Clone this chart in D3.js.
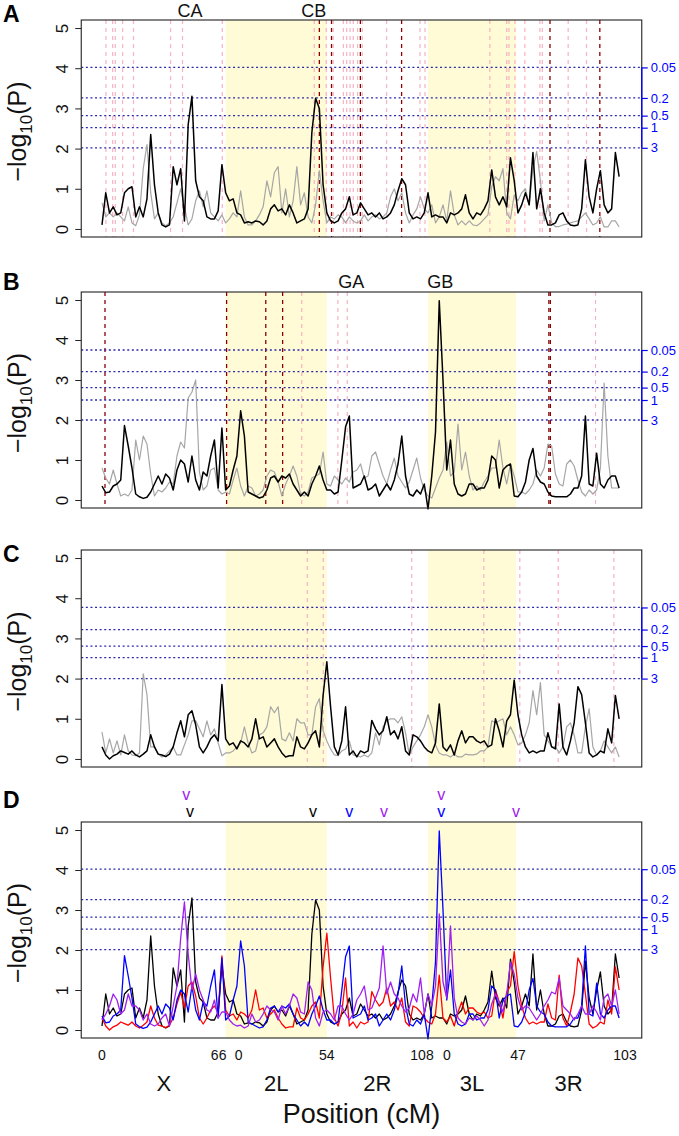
<!DOCTYPE html>
<html><head><meta charset="utf-8">
<script src="https://cdn.jsdelivr.net/npm/d3@7"></script>
<style>
body{margin:0;background:#fff}
svg{display:block}
text{font-family:"Liberation Sans",Arial,Helvetica,sans-serif}
</style>
</head><body>
<svg id="chart" width="679" height="1136"></svg>
<script>
// ---------------- DATA ----------------
// marker grid (cumulative cM along X | chr2 | chr3)
const positionsCM = d3.range(0, 277, 2);
const armNames  = ["X", "2L", "2R", "3L", "3R"];
const armStarts = [0, 66, 120, 174, 221];
const armEnds   = [66, 120, 174, 221, 277];
const shadedArms = ["2L", "3L"];
const tickLabels = ["0", "66", "0", "54", "108", "0", "47", "103"];
const tickPosCM  = [0, 66, 66, 120, 174, 174, 221, 277];
const yTicks = [0, 1, 2, 3, 4, 5];
const thresholdLabels = ["0.05", "0.2", "0.5", "1", "3"];
const thresholdsA = [4.02, 3.26, 2.82, 2.52, 2.02];
const thresholdsB = [3.75, 3.21, 2.81, 2.50, 2.00];
const thresholdsC = [3.77, 3.22, 2.81, 2.52, 2.00];
const thresholdsD = [4.02, 3.26, 2.82, 2.52, 2.01];

const blackA = [0.1,0.9,0.4,0.55,0.35,0.4,0.9,1.0,1.05,0.3,
 0.55,0.3,0.75,2.35,1.1,0.4,0.1,0.05,0.1,1.55,
 1.1,1.5,0.2,2.6,3.3,1.2,0.8,0.7,0.3,0.25,
 0.25,0.45,1.6,0.9,0.7,0.75,0.4,0.35,0.15,0.18,
 0.15,0.2,0.18,0.1,0.2,0.5,0.6,0.45,0.5,0.35,
 0.6,0.4,0.15,0.2,0.25,0.5,2.4,3.25,3.0,1.1,
 0.4,0.2,0.15,0.2,0.4,0.5,0.8,0.35,0.4,0.65,
 0.5,0.35,0.4,0.3,0.4,0.25,0.3,0.4,0.6,0.95,
 1.25,1.1,0.4,0.25,0.3,0.25,0.4,0.9,0.3,0.35,
 0.3,0.3,0.15,0.4,0.35,0.4,0.5,0.85,0.4,0.25,
 0.4,0.35,0.5,0.7,1.47,0.8,0.6,0.8,0.55,1.77,
 1.2,0.4,0.6,0.9,0.6,1.9,0.5,1.0,0.4,0.1,
 0.1,0.15,0.35,0.4,0.2,0.1,0.08,0.1,0.5,1.72,
 0.8,0.4,1.0,1.45,0.6,0.4,0.5,1.9,1.3];
const greyA = [0.65,0.3,0.4,0.3,0.4,0.3,0.2,0.55,0.15,0.08,
 0.35,1.5,2.1,0.9,0.25,0.4,0.15,0.08,0.15,0.3,
 0.65,1.0,0.55,0.1,0.25,0.7,0.95,0.55,0.95,0.4,
 0.3,0.2,0.35,0.15,0.25,0.4,0.3,0.95,0.3,0.1,
 0.1,0.2,0.35,0.55,1.2,0.8,1.4,1.55,0.4,1.0,
 0.3,0.7,1.55,0.6,0.9,0.3,0.15,0.6,1.45,0.7,
 0.15,0.3,0.25,0.35,0.3,0.15,0.3,0.2,0.15,0.2,
 0.35,0.2,0.3,0.35,0.25,0.3,0.4,0.8,1.0,0.7,
 0.9,0.4,0.15,0.35,0.5,0.8,0.5,0.4,0.6,0.15,
 0.3,0.6,0.2,0.95,0.35,0.1,0.2,0.1,0.2,0.1,
 0.08,0.15,0.25,0.35,1.05,1.3,1.2,1.5,0.4,0.25,
 0.85,0.7,0.9,1.0,0.6,1.5,1.93,1.2,0.2,0.6,
 0.15,0.06,0.06,0.1,0.12,0.15,0.18,0.2,0.3,0.4,
 0.25,0.1,0.15,0.3,0.05,0.05,0.2,0.2,0.05];
const blackB = [0.35,0.18,0.2,0.35,0.4,0.5,1.86,1.35,0.8,0.15,
 0.08,0.04,0.07,0.2,0.4,0.6,0.4,0.65,0.55,0.25,
 0.75,1.0,0.9,0.45,1.1,0.5,0.25,0.7,0.6,1.1,
 1.5,0.3,1.8,0.25,0.35,0.75,1.1,2.23,1.6,0.2,
 0.15,0.1,0.05,0.08,0.25,0.55,0.6,0.45,0.6,0.55,
 0.65,0.4,0.25,0.1,0.2,0.1,0.4,0.6,0.85,0.5,
 0.25,0.25,0.15,0.2,1.0,1.83,2.1,0.3,0.35,0.4,
 0.6,0.25,0.3,0.4,0.1,0.25,0.4,0.25,0.5,0.9,
 1.6,0.6,0.15,0.1,0.25,0.15,0.4,-0.22,0.6,1.7,
 4.98,3.0,0.75,1.5,0.4,0.15,0.1,0.15,0.4,0.4,
 0.25,0.3,0.3,0.5,1.1,1.0,0.3,0.75,0.85,0.9,
 0.1,0.08,0.2,0.45,1.0,1.29,0.6,0.45,0.4,0.2,
 0.1,0.08,0.08,0.08,0.08,0.15,0.3,0.3,0.6,2.1,
 0.4,0.35,1.17,0.4,0.3,0.5,0.6,0.6,0.3];
const greyB = [0.8,0.55,0.4,0.75,0.4,0.1,0.15,0.1,0.25,1.5,
 1.0,1.6,1.4,0.65,0.1,0.25,0.2,0.3,0.45,0.4,
 1.1,1.45,1.3,2.55,2.7,3.0,0.7,0.25,0.35,0.75,
 0.8,0.25,0.15,0.2,0.15,0.5,0.8,0.35,0.1,0.35,
 0.3,0.1,0.15,0.25,0.6,0.75,0.7,0.45,0.1,0.4,
 0.6,0.85,0.6,0.15,0.1,0.2,0.55,0.6,0.65,1.2,
 0.4,0.35,0.6,0.5,0.4,0.55,0.45,0.7,0.75,0.9,
 0.55,0.6,1.1,1.2,0.9,0.6,0.4,0.75,1.05,0.6,
 0.45,0.3,0.45,0.75,1.05,0.55,0.25,0.1,0.05,0.3,
 0.55,0.75,1.45,0.6,0.7,1.9,0.75,1.2,0.6,0.25,
 0.35,0.25,0.45,0.6,0.8,0.8,1.5,0.8,0.4,0.9,
 0.6,0.2,0.2,0.15,0.25,0.4,0.75,0.6,0.8,1.4,
 1.35,0.65,0.4,0.35,0.9,1.0,0.85,0.5,0.2,0.1,
 0.25,0.15,0.25,0.8,2.92,1.1,0.3,0.3,0.3];
const blackC = [0.3,0.1,0.0,0.08,0.12,0.2,0.16,0.12,0.2,0.1,
 0.05,0.12,0.2,0.6,0.3,0.12,0.1,0.06,0.12,0.3,
 0.65,0.95,0.55,1.1,1.2,0.85,0.3,0.15,0.3,0.5,
 0.6,0.45,1.85,0.5,0.35,0.4,0.25,0.45,0.4,0.3,
 0.5,1.0,0.5,0.55,0.3,0.4,0.5,0.3,0.15,0.05,
 0.08,0.08,0.55,0.3,0.25,0.4,0.6,0.7,0.3,1.58,
 2.42,1.3,0.3,0.1,0.45,1.3,0.1,0.2,0.05,0.2,
 0.15,0.2,0.96,0.75,0.6,0.7,1.05,0.6,0.7,0.5,
 0.8,0.2,0.1,0.6,0.55,0.45,0.3,0.2,0.15,0.4,
 1.37,0.3,0.2,0.35,0.1,0.45,0.7,0.4,0.55,0.55,
 0.45,0.4,0.45,0.3,0.35,1.0,0.7,0.3,0.95,1.1,
 1.96,1.1,0.6,0.3,0.15,0.2,0.15,0.2,0.2,0.65,
 0.3,0.25,1.37,0.3,0.1,0.45,0.9,1.8,1.6,0.9,
 0.15,0.05,0.1,0.2,0.15,0.75,0.4,1.58,1.0];
const greyC = [0.67,0.15,0.5,0.15,0.45,0.1,0.6,0.2,0.1,0.08,
 0.15,2.12,1.6,0.3,0.3,0.12,0.05,0.1,0.2,0.3,
 0.1,0.1,0.35,0.6,0.95,0.95,0.75,0.55,0.95,0.6,
 0.75,0.4,0.08,0.15,0.15,0.2,0.3,0.4,0.8,0.4,
 0.15,0.2,0.6,0.65,0.8,1.3,1.15,1.3,0.5,0.45,
 0.65,0.45,1.0,0.9,0.9,0.6,0.6,1.3,1.5,0.7,
 0.45,0.25,0.1,0.08,0.2,0.25,0.45,0.1,0.08,0.05,
 0.1,0.05,0.15,0.65,0.35,0.8,0.95,1.0,1.0,0.9,
 1.05,0.65,0.1,0.3,0.45,0.6,0.8,1.1,0.8,0.35,
 0.15,0.1,0.1,0.05,0.12,0.05,0.05,0.12,0.1,0.1,
 0.12,0.2,0.2,0.3,0.95,0.9,0.95,1.0,0.6,0.8,
 0.6,0.35,0.4,0.6,0.9,1.7,1.1,1.9,0.6,0.45,
 0.3,0.3,0.15,0.3,0.8,0.9,0.6,0.15,0.15,0.8,
 1.25,0.3,0.1,0.2,0.45,0.3,0.15,0.3,0.05];
const purpleD = [0.25,0.4,0.6,0.9,0.75,0.4,0.5,0.9,0.6,0.6,
 0.5,0.25,0.4,0.15,0.1,0.15,0.3,0.4,0.1,0.6,
 1.1,2.3,3.2,1.9,1.0,1.4,1.0,0.75,0.5,0.45,
 0.75,0.3,0.45,0.45,0.25,0.15,0.1,0.12,0.05,0.1,
 0.4,0.2,0.25,0.4,0.6,0.5,0.45,0.25,0.6,0.4,
 0.6,0.9,0.8,0.45,0.4,1.2,1.0,0.3,0.1,0.45,
 0.5,0.4,0.25,0.6,0.6,0.4,0.25,0.4,0.75,0.9,
 1.1,0.5,0.55,0.8,1.05,2.1,0.9,1.2,0.9,0.8,
 0.6,0.45,0.55,0.9,0.7,1.3,0.4,0.9,0.6,1.1,
 2.9,1.2,0.8,2.6,0.8,0.3,0.2,0.15,0.3,0.25,
 0.35,0.25,0.1,0.25,0.65,0.9,0.7,0.45,0.9,1.7,
 1.4,0.8,0.5,0.6,0.55,0.4,0.25,0.4,0.6,0.75,
 0.95,0.9,1.3,0.6,0.5,0.4,0.25,0.4,0.6,0.4,
 0.4,0.6,0.45,0.25,0.8,0.9,0.6,1.0,0.4];

// vertical marker lines (cumulative cM)
const pinkA = [2.1,5.7,7.1,11.0,16.8,36.6,43.0,64.2,113.3,119.7,123.4,128.8,130.6,132.4,134.1,136.4,138.9,151.9,169.7,172.4,207.0,216.0,217.2,220.4,225.7,233.7,235.0,248.8,258.6];
const darkA = [116.0,122.5,137.9,159.9,239.1,265.7];
const pinkB = [106.6,125.9,130.9,263.4];
const darkB = [1.6,66.5,87.4,96.4,238.5,239.3];
const pinkC = [109.6,118.1,165.3,203.8,223.0,243.5,273.2];
const darkC = [];

const peakLabelsA = [{text:"CA", pos:47}, {text:"CB", pos:113}];
const peakLabelsB = [{text:"GA", pos:133}, {text:"GB", pos:180.5}];
const markersUpper = [{s:"purple", pos:45}, {s:"purple", pos:181}];
const markersLower = [{s:"black", pos:47}, {s:"black", pos:112.6}, {s:"blue", pos:132}, {s:"purple", pos:150.5}, {s:"blue", pos:181}, {s:"purple", pos:221}];

// ---------------- DRAWING ----------------
const col = {black:"#000000", grey:"#a6a6a6", red:"#ff0000", blue:"#0000ff", purple:"#a020f0",
  pink:"#f6b3c0", dark:"#8b0000", thr:"#2a2aa6", shade:"#fffbd6", axisBlue:"#0000ff"};

const svg = d3.select("#chart");
const x = d3.scaleLinear().domain([0, 277]).range([102, 621]);
const pad = 277 * 0.04;
const boxL = x(-pad), boxR = x(277 + pad);

const panels = [
  {letter:"A", letterY:22, top:20, bottom:237, thr:thresholdsA,
   series:[{v:greyA,c:col.grey,w:1.2},{v:blackA,c:col.black,w:1.5}], pink:pinkA, dark:darkA, labels:peakLabelsA, labelY:17},
  {letter:"B", letterY:290, top:292, bottom:508, thr:thresholdsB,
   series:[{v:greyB,c:col.grey,w:1.2},{v:blackB,c:col.black,w:1.5}], pink:pinkB, dark:darkB, labels:peakLabelsB, labelY:288},
  {letter:"C", letterY:562, top:550, bottom:767, thr:thresholdsC,
   series:[{v:greyC,c:col.grey,w:1.2},{v:blackC,c:col.black,w:1.5}], pink:pinkC, dark:darkC, labels:[], labelY:0},
  {letter:"D", letterY:808, top:822, bottom:1038, thr:thresholdsD,
   series:[{v:blackA,c:col.black,w:1.3},{v:blackC,c:col.red,w:1.3},{v:blackB,c:col.blue,w:1.3},{v:purpleD,c:col.purple,w:1.3}],
   pink:[], dark:[], labels:[], labelY:0}
];

panels.forEach(p => {
  const y = d3.scaleLinear().domain([-0.2, 5.2]).range([p.bottom, p.top]);
  const g = svg.append("g");

  shadedArms.forEach(a => {
    const i = armNames.indexOf(a);
    g.append("rect").attr("x", x(armStarts[i])).attr("width", x(armEnds[i]) - x(armStarts[i]))
      .attr("y", p.top).attr("height", p.bottom - p.top).attr("fill", col.shade);
  });

  p.pink.forEach(v => g.append("line").attr("x1", x(v)).attr("x2", x(v)).attr("y1", p.top).attr("y2", p.bottom)
    .attr("stroke", col.pink).attr("stroke-width", 1.2).attr("stroke-dasharray", "4,4"));
  p.dark.forEach(v => g.append("line").attr("x1", x(v)).attr("x2", x(v)).attr("y1", p.top).attr("y2", p.bottom)
    .attr("stroke", col.dark).attr("stroke-width", 1.3).attr("stroke-dasharray", "4,4"));

  p.thr.forEach(t => g.append("line").attr("x1", boxL).attr("x2", boxR).attr("y1", y(t)).attr("y2", y(t))
    .attr("stroke", col.thr).attr("stroke-width", 1.3).attr("stroke-dasharray", "2,2.6"));

  const line = d3.line().x((d, i) => x(positionsCM[i])).y(d => y(d));
  p.series.forEach(s => g.append("path").datum(s.v).attr("d", line).attr("fill", "none")
    .attr("stroke", s.c).attr("stroke-width", s.w).attr("stroke-linejoin", "round"));

  g.append("rect").attr("x", boxL).attr("y", p.top).attr("width", boxR - boxL).attr("height", p.bottom - p.top)
    .attr("fill", "none").attr("stroke", "#222").attr("stroke-width", 1.1);

  const ax = g.append("g").attr("transform", `translate(${boxL},0)`)
    .call(d3.axisLeft(y).tickValues(yTicks).tickSize(6).tickFormat(d3.format("d")));
  ax.select(".domain").remove();
  ax.selectAll("line").attr("stroke", "#222");
  ax.selectAll("text").attr("x", null).attr("dy", null).attr("text-anchor", "middle")
    .attr("transform", "translate(-13,0) rotate(-90)").attr("font-size", 17).attr("fill", "#111")
    .attr("font-family", '"Liberation Sans",Arial,sans-serif');

  const rax = g.append("g").attr("transform", `translate(${boxR},0)`).attr("color", col.axisBlue)
    .call(d3.axisRight(y).tickValues(p.thr).tickSize(6).tickPadding(3).tickFormat((d, i) => thresholdLabels[i]));
  rax.select(".domain").remove();
  rax.append("line").attr("x1", 0).attr("x2", 0).attr("y1", y(d3.max(p.thr))).attr("y2", y(d3.min(p.thr)))
    .attr("stroke", col.axisBlue).attr("stroke-width", 1.3);
  rax.selectAll("text").attr("font-size", 13).attr("font-family", '"Liberation Sans",Arial,sans-serif');
  rax.selectAll(".tick line").attr("stroke-width", 1.2);

  const yc = (p.top + p.bottom) / 2 + 3;
  const tt = g.append("text").attr("transform", `translate(26,${yc}) rotate(-90)`).attr("text-anchor", "middle")
    .attr("font-size", 25).attr("fill", "#111");
  tt.append("tspan").text("\u2212log");
  tt.append("tspan").attr("font-size", 17).attr("dy", 6).text("10");
  tt.append("tspan").attr("dy", -6).text("(P)");

  g.append("text").attr("x", 3).attr("y", p.letterY).attr("font-size", 23).attr("font-weight", "bold").text(p.letter);

  p.labels.forEach(l => g.append("text").attr("x", x(l.pos)).attr("y", p.labelY).attr("text-anchor", "middle")
    .attr("font-size", 18).attr("fill", "#111").text(l.text));
});

markersUpper.forEach(m => svg.append("text").attr("x", x(m.pos)).attr("y", 800).attr("text-anchor", "middle")
  .attr("font-size", 16).attr("fill", col[m.s]).text("v"));
markersLower.forEach(m => svg.append("text").attr("x", x(m.pos)).attr("y", 817).attr("text-anchor", "middle")
  .attr("font-size", 16).attr("fill", col[m.s]).text("v"));

const tickOffsets = [0, -7, 13, 0, -6, 19, 2, 4];
tickLabels.forEach((t, i) => svg.append("text").attr("x", x(tickPosCM[i]) + tickOffsets[i]).attr("y", 1060)
  .attr("text-anchor", "middle").attr("font-size", 14).attr("fill", "#111").text(t));

armNames.forEach((n, i) => svg.append("text").attr("x", x((armStarts[i] + armEnds[i]) / 2)).attr("y", 1091)
  .attr("text-anchor", "middle").attr("font-size", 22).attr("fill", "#111").text(n));

svg.append("text").attr("x", x(138.5)).attr("y", 1123).attr("text-anchor", "middle")
  .attr("font-size", 27).attr("fill", "#111").text("Position (cM)");
</script>
</body></html>
